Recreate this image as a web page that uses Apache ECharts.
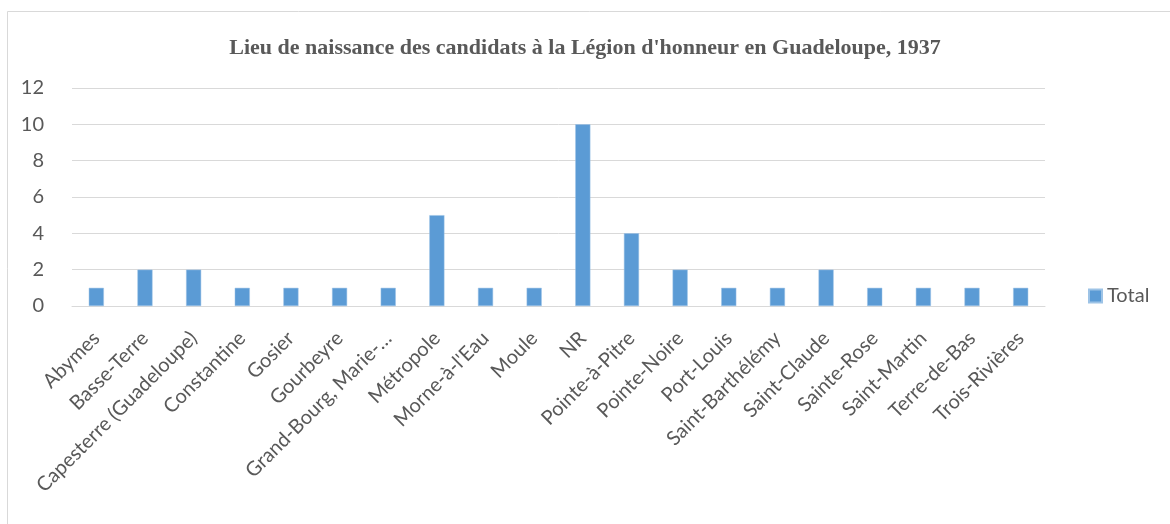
<!DOCTYPE html>
<html>
<head>
<meta charset="utf-8">
<script src="https://cdn.jsdelivr.net/npm/echarts@6/dist/echarts.min.js"></script>
<style>
  html, body { margin: 0; padding: 0; background: #fff; }
  #main { width: 1170px; height: 524px; }
</style>
</head>
<body>
<div id="main"></div>
<script>
  // data
  const categories = ['Abymes', 'Basse-Terre', 'Capesterre (Guadeloupe)', 'Constantine', 'Gosier',
    'Gourbeyre', 'Grand-Bourg, Marie-…', 'Métropole', "Morne-à-l'Eau", 'Moule', 'NR',
    'Pointe-à-Pitre', 'Pointe-Noire', 'Port-Louis', 'Saint-Barthélémy', 'Saint-Claude',
    'Sainte-Rose', 'Saint-Martin', 'Terre-de-Bas', 'Trois-Rivières'];
  const totals = [1, 2, 2, 1, 1, 1, 1, 5, 1, 1, 10, 4, 2, 1, 1, 2, 1, 1, 1, 1];
  const seriesName = 'Total';
  const chartTitle = "Lieu de naissance des candidats à la Légion d'honneur en Guadeloupe, 1937";

  const textFont = 'Lato, "Open Sans", sans-serif';
  let chart = echarts.init(document.getElementById('main'));

  let option = {
    animation: false,
    backgroundColor: '#fff',
    graphic: [{
      type: 'rect',
      shape: { x: 7.5, y: 11.5, width: 1180, height: 540 },
      style: { fill: 'none', stroke: '#d9d9d9', lineWidth: 1 },
      silent: true
    }],
    title: {
      text: chartTitle,
      left: 580,
      top: 32,
      textAlign: 'center',
      textStyle: {
        fontFamily: '"Liberation Serif", "Times New Roman", serif',
        fontWeight: 'bold',
        fontSize: 22,
        color: '#595959'
      }
    },
    legend: {
      data: [seriesName],
      left: 1088,
      top: 286,
      padding: 0,
      itemWidth: 13,
      itemHeight: 13,
      icon: 'rect',
      textStyle: { fontFamily: textFont, fontSize: 20, color: '#595959' }
    },
    grid: {
      left: 72,
      right: 125,
      top: 88,
      bottom: 218,
      containLabel: false
    },
    xAxis: {
      type: 'category',
      data: categories,
      axisLine: { lineStyle: { color: '#d9d9d9', width: 1 } },
      axisTick: { show: false },
      axisLabel: {
        rotate: 45,
        interval: 0,
        margin: 29,
        fontFamily: textFont,
        fontSize: 20,
        color: '#595959'
      }
    },
    yAxis: {
      type: 'value',
      min: 0,
      max: 12,
      interval: 2,
      axisLine: { show: false },
      axisTick: { show: false },
      splitLine: { lineStyle: { color: '#d9d9d9', width: 1 } },
      axisLabel: {
        margin: 28,
        fontFamily: textFont,
        fontSize: 20,
        color: '#595959'
      }
    },
    series: [{
      name: seriesName,
      type: 'bar',
      data: totals,
      barWidth: '31%',
      itemStyle: {
        color: '#5b9bd5',
        borderColor: '#9dc3e6',
        borderWidth: 0.5
      }
    }]
  };

  chart.setOption(option);
</script>
</body>
</html>
